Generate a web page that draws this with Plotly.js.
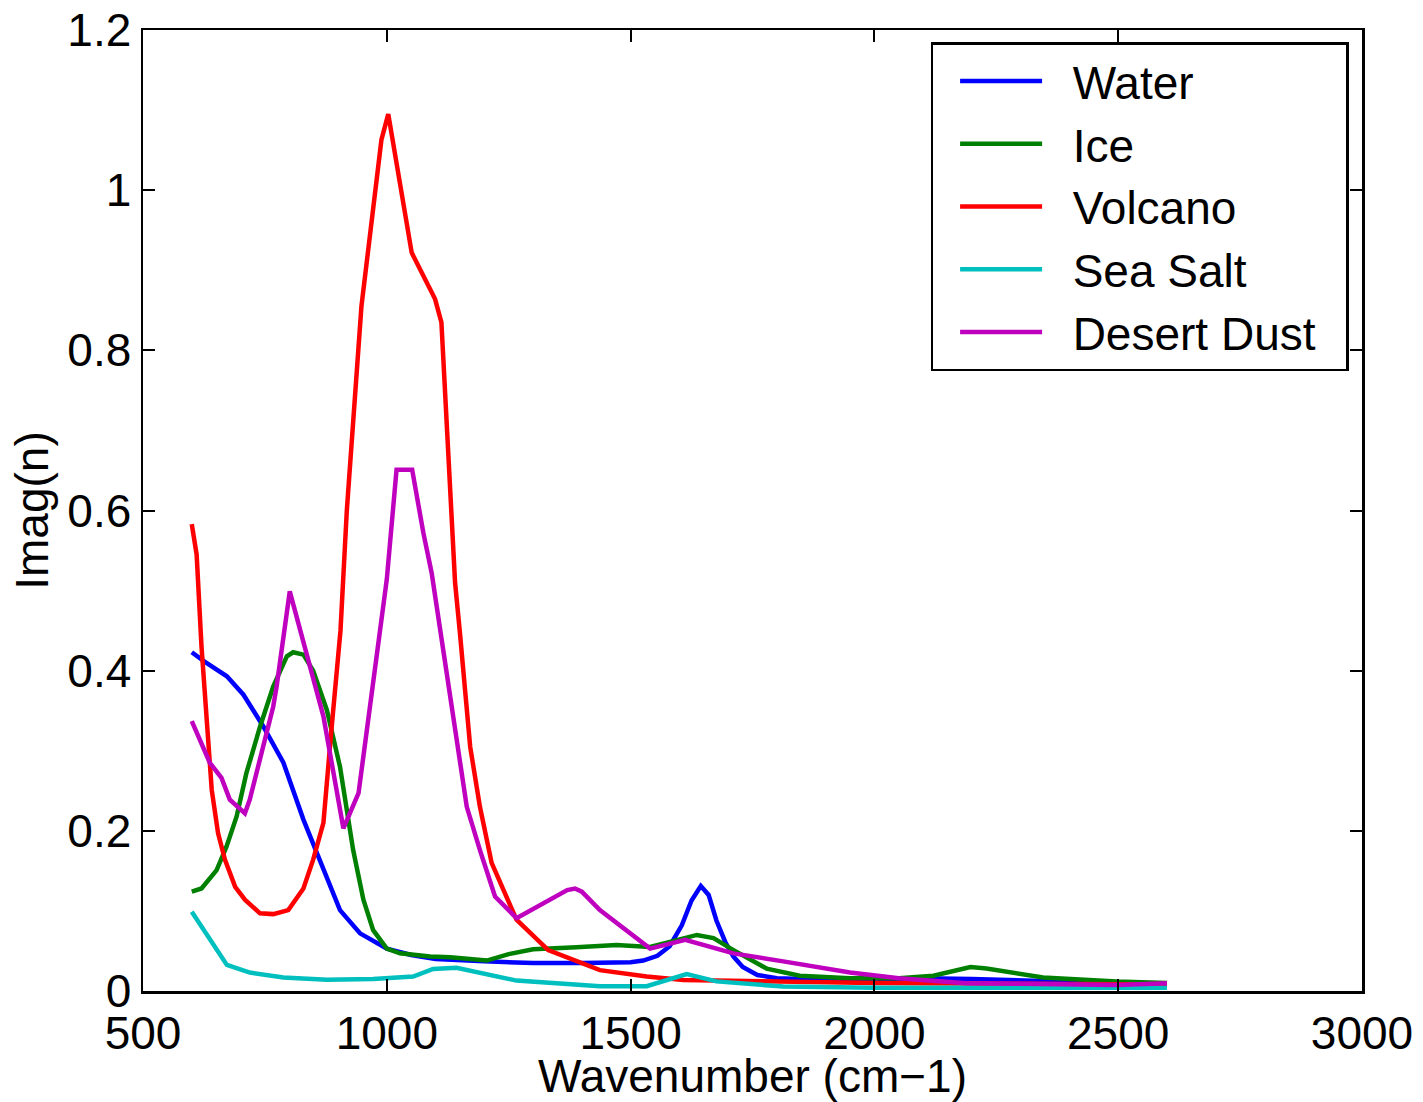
<!DOCTYPE html>
<html>
<head>
<meta charset="utf-8">
<script src="https://cdn.plot.ly/plotly-3.0.1.min.js"></script>
<style>html,body{margin:0;padding:0;background:#fff;}#chart{width:1423px;height:1102px;}</style>
</head>
<body>
<div id="chart"></div>
<script>
const seriesNames = ["Water", "Ice", "Volcano", "Sea Salt", "Desert Dust"];

const waterX = [600, 627, 672, 706, 747, 788, 829, 863, 904, 945, 1000, 1050, 1100, 1200, 1300, 1400, 1500, 1526, 1555, 1580, 1605, 1625, 1644, 1660, 1676, 1695, 1711, 1730, 1760, 1800, 1900, 2000, 2100, 2200, 2300, 2450, 2600];
const waterY = [0.423, 0.411, 0.393, 0.370, 0.330, 0.285, 0.214, 0.164, 0.101, 0.072, 0.053, 0.045, 0.040, 0.037, 0.035, 0.035, 0.036, 0.038, 0.044, 0.056, 0.082, 0.113, 0.131, 0.120, 0.088, 0.060, 0.043, 0.030, 0.020, 0.016, 0.014, 0.014, 0.016, 0.015, 0.013, 0.010, 0.008];

const iceX = [600, 620, 651, 671, 692, 712, 740, 767, 795, 808, 829, 849, 877, 904, 931, 952, 972, 1000, 1027, 1089, 1130, 1205, 1250, 1300, 1389, 1471, 1540, 1590, 1636, 1670, 1711, 1779, 1847, 1950, 2050, 2121, 2160, 2197, 2230, 2290, 2346, 2497, 2600];
const iceY = [0.124, 0.128, 0.151, 0.180, 0.218, 0.272, 0.330, 0.380, 0.418, 0.423, 0.420, 0.400, 0.351, 0.280, 0.176, 0.114, 0.076, 0.053, 0.047, 0.043, 0.042, 0.038, 0.046, 0.052, 0.0545, 0.0575, 0.055, 0.063, 0.070, 0.066, 0.051, 0.028, 0.019, 0.016, 0.016, 0.019, 0.024, 0.030, 0.028, 0.023, 0.017, 0.012, 0.010];

const volcanoX = [600, 610, 620, 630, 641, 654, 668, 689, 709, 740, 767, 798, 829, 849, 870, 887, 905, 918, 948, 989, 1003, 1051, 1099, 1112, 1133, 1140, 1150, 1171, 1191, 1215, 1266, 1331, 1437, 1533, 1608, 1813, 2000, 2300, 2600];
const volcanoY = [0.583, 0.545, 0.430, 0.343, 0.251, 0.197, 0.164, 0.130, 0.114, 0.097, 0.096, 0.101, 0.128, 0.164, 0.210, 0.330, 0.450, 0.600, 0.855, 1.063, 1.095, 0.922, 0.864, 0.835, 0.589, 0.510, 0.447, 0.305, 0.230, 0.160, 0.089, 0.051, 0.026, 0.018, 0.0137, 0.012, 0.010, 0.009, 0.008];

const seaSaltX = [600, 672, 719, 788, 877, 972, 1054, 1095, 1143, 1198, 1266, 1437, 1533, 1615, 1676, 1813, 2000, 2600];
const seaSaltY = [0.099, 0.0325, 0.023, 0.017, 0.014, 0.015, 0.018, 0.0275, 0.029, 0.022, 0.013, 0.006, 0.006, 0.021, 0.012, 0.0055, 0.004, 0.004];

const dustX = [600, 613, 637, 661, 678, 709, 719, 767, 774, 801, 829, 870, 911, 942, 1000, 1020, 1052, 1075, 1092, 1116, 1147, 1164, 1191, 1222, 1266, 1370, 1386, 1400, 1437, 1540, 1612, 1711, 1813, 1950, 2050, 2189, 2300, 2497, 2600];
const dustY = [0.337, 0.318, 0.285, 0.266, 0.239, 0.222, 0.239, 0.355, 0.380, 0.499, 0.434, 0.343, 0.203, 0.247, 0.514, 0.651, 0.651, 0.572, 0.522, 0.426, 0.305, 0.230, 0.176, 0.118, 0.091, 0.126, 0.128, 0.124, 0.101, 0.053, 0.064, 0.047, 0.037, 0.023, 0.016, 0.0096, 0.009, 0.0075, 0.0096];

const colors = ["#0000ff", "#008000", "#ff0000", "#00bfbf", "#bf00bf"];
const xs = [waterX, iceX, volcanoX, seaSaltX, dustX];
const ys = [waterY, iceY, volcanoY, seaSaltY, dustY];

const xTickVals = [500, 1000, 1500, 2000, 2500, 3000];
const yTickVals = [0, 0.2, 0.4, 0.6, 0.8, 1, 1.2];

const FONT = "Liberation Sans, Arial, Helvetica, sans-serif";
const PAD = "\u00A0\u00A0";

const traces = seriesNames.map((n, i) => ({
  type: "scatter",
  mode: "lines",
  name: PAD + n + PAD,
  x: xs[i],
  y: ys[i],
  line: {color: colors[i], width: 4.5}
}));

const axisCommon = {
  showgrid: false,
  zeroline: false,
  showline: true,
  linecolor: "#000",
  linewidth: 2.5,
  mirror: "ticks",
  ticks: "inside",
  ticklen: 12,
  tickwidth: 2,
  tickcolor: "#000",
  tickfont: {family: FONT, size: 46, color: "#000"}
};

const layout = {
  width: 1423,
  height: 1102,
  margin: {l: 143, r: 61, t: 30, b: 111},
  paper_bgcolor: "#fff",
  plot_bgcolor: "#fff",
  font: {family: FONT, size: 46, color: "#000"},
  xaxis: Object.assign({}, axisCommon, {
    range: [500, 3000],
    tickvals: xTickVals,
    title: {text: "Wavenumber (cm\u22121)", font: {family: FONT, size: 46}, standoff: 2}
  }),
  yaxis: Object.assign({}, axisCommon, {
    range: [0, 1.2],
    tickvals: yTickVals,
    title: {text: "Imag(n)", font: {family: FONT, size: 46}, standoff: 4}
  }),
  showlegend: true,
  legend: {
    x: 0.989, y: 0.9875, xanchor: "right", yanchor: "top",
    bgcolor: "#fff",
    bordercolor: "#000",
    borderwidth: 2.5,
    itemwidth: 82,
    indentation: 22,
    font: {family: FONT, size: 46, color: "#000"},
    tracegroupgap: 0
  }
};

Plotly.newPlot("chart", traces, layout, {displayModeBar: false, staticPlot: true});
</script>
</body>
</html>
